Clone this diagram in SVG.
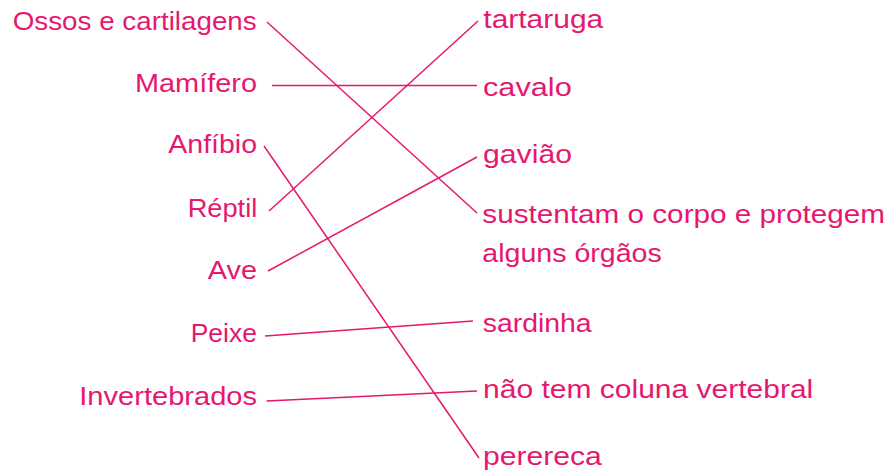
<svg xmlns="http://www.w3.org/2000/svg" width="889" height="470" viewBox="0 0 889 470">
<style>
text{font-family:"Liberation Sans","DejaVu Sans",sans-serif;font-size:25px;fill:#e6176f}
.l{text-anchor:start}
line{stroke:#e6176f;stroke-width:1.5;fill:none}
</style>
<rect width="889" height="470" fill="#fff"/>
<g id="connectors">
<line x1="267" y1="22" x2="477" y2="213"/>
<line x1="272" y1="85.5" x2="477" y2="85.5"/>
<line x1="269" y1="211" x2="478" y2="21"/>
<line x1="264" y1="146" x2="479" y2="458"/>
<line x1="268" y1="271" x2="477" y2="157"/>
<line x1="265" y1="336" x2="473" y2="321"/>
<line x1="266.5" y1="401" x2="477" y2="391"/>
</g>
<g id="n-ossos"><text x="12.7" y="30" textLength="244" lengthAdjust="spacingAndGlyphs">Ossos e cartilagens</text></g>
<g id="n-mamifero"><text x="135" y="92.3" textLength="122" lengthAdjust="spacingAndGlyphs">Mamífero</text></g>
<g id="n-anfibio"><text x="168.3" y="153.3" textLength="88.7" lengthAdjust="spacingAndGlyphs">Anfíbio</text></g>
<g id="n-reptil"><text x="187.7" y="216.7" textLength="69.6" lengthAdjust="spacingAndGlyphs">Réptil</text></g>
<g id="n-ave"><text x="207.7" y="279.3" textLength="49.3" lengthAdjust="spacingAndGlyphs">Ave</text></g>
<g id="n-peixe"><text x="190.7" y="342.3" textLength="66.3" lengthAdjust="spacingAndGlyphs">Peixe</text></g>
<g id="n-invertebrados"><text x="79.3" y="405" textLength="177.7" lengthAdjust="spacingAndGlyphs">Invertebrados</text></g>
<g id="n-tartaruga"><text x="483.3" y="28" textLength="120" lengthAdjust="spacingAndGlyphs">tartaruga</text></g>
<g id="n-cavalo"><text x="483" y="96" textLength="88.7" lengthAdjust="spacingAndGlyphs">cavalo</text></g>
<g id="n-gaviao"><text x="483" y="163.3" textLength="89" lengthAdjust="spacingAndGlyphs">gavião</text></g>
<g id="n-sustentam"><text x="482.3" y="223.3" textLength="402.7" lengthAdjust="spacingAndGlyphs">sustentam o corpo e protegem</text><text x="482.3" y="261.7" textLength="179.4" lengthAdjust="spacingAndGlyphs">alguns órgãos</text></g>
<g id="n-sardinha"><text x="482.7" y="331.7" textLength="109" lengthAdjust="spacingAndGlyphs">sardinha</text></g>
<g id="n-naotem"><text x="483" y="398.3" textLength="330.3" lengthAdjust="spacingAndGlyphs">não tem coluna vertebral</text></g>
<g id="n-perereca"><text x="483" y="465" textLength="118.7" lengthAdjust="spacingAndGlyphs">perereca</text></g>
</svg>
